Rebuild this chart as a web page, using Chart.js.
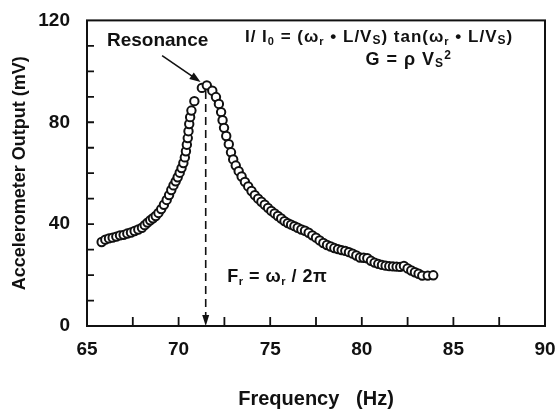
<!DOCTYPE html>
<html>
<head>
<meta charset="utf-8">
<script src="https://cdn.jsdelivr.net/npm/chart.js@4.4.1/dist/chart.umd.min.js"></script>
<style>
  body { margin: 0; background: #fff; }
</style>
</head>
<body>
<canvas id="myChart" width="558" height="414"></canvas>
<script>
// frequency sweep (Hz) and accelerometer reading (mV)
const freqHz = [
  65.80, 66.00, 66.20, 66.40, 66.60, 66.80, 67.00, 67.20, 67.40, 67.60,
  67.80, 68.00, 68.15, 68.30, 68.45, 68.60, 68.75, 68.90, 69.05, 69.20,
  69.35, 69.48, 69.60, 69.72, 69.84, 69.95, 70.06, 70.16, 70.26, 70.34,
  70.40, 70.45, 70.50, 70.54, 70.58, 70.63, 70.70, 70.86, 71.27, 71.54,
  71.84, 72.04, 72.20, 72.32, 72.40, 72.48, 72.60, 72.74, 72.86, 72.98,
  73.12, 73.28, 73.44, 73.62, 73.80, 73.98, 74.16, 74.34, 74.52, 74.70,
  74.88, 75.06, 75.24, 75.42, 75.60, 75.78, 75.96, 76.14, 76.32, 76.50,
  76.70, 76.90, 77.10, 77.30, 77.50, 77.70, 77.90, 78.10, 78.30, 78.50,
  78.70, 78.90, 79.10, 79.30, 79.50, 79.70, 79.90, 80.10, 80.30, 80.50,
  80.70, 80.90, 81.10, 81.30, 81.50, 81.70, 81.90, 82.10, 82.30, 82.50,
  82.70, 82.90, 83.10, 83.30, 83.60, 83.90
];
const outputMv = [
  33.0, 33.9, 34.4, 34.7, 35.1, 35.6, 35.8, 36.3, 36.7, 37.3,
  37.9, 38.6, 39.6, 40.6, 41.5, 42.3, 43.2, 44.4, 45.9, 47.6,
  49.5, 51.4, 53.4, 55.2, 56.8, 58.4, 60.2, 62.0, 64.0, 66.2,
  68.6, 71.2, 73.8, 76.5, 79.3, 82.0, 84.6, 88.3, 93.5, 94.5,
  92.4, 89.9, 87.2, 84.0, 80.8, 77.8, 74.6, 71.4, 68.2, 65.4,
  63.0, 60.8, 58.7, 56.6, 54.8, 53.0, 51.4, 50.0, 48.8, 47.6,
  46.4, 45.2, 44.2, 43.2, 42.2, 41.2, 40.4, 39.8, 39.2, 38.6,
  37.9, 37.4, 36.6, 35.6, 34.7, 33.6, 32.6, 31.8, 31.2, 30.6,
  30.2, 29.8, 29.5, 29.0, 28.4, 27.7, 26.9, 26.8, 26.6, 25.6,
  24.9, 24.4, 24.0, 23.7, 23.5, 23.4, 23.3, 23.2, 23.6, 22.6,
  21.8, 21.1, 20.5, 19.8, 19.8, 19.9
];

const xTicks = [65, 70, 75, 80, 85, 90];
const xMinor = [67.5, 70, 72.5, 75, 77.5, 80, 82.5, 85, 87.5];
const yTicks = [0, 40, 80, 120];
const yMinor = [10, 20, 30, 40, 50, 60, 70, 80, 90, 100, 110];

const resonanceHz = 71.48;

const FONT = 'Liberation Sans, Arial, Helvetica, sans-serif';
const INK = '#111';

// draws a run of text pieces: [text, size, baseline shift]
function drawRich(ctx, x, y, parts, bold, spacing) {
  ctx.letterSpacing = (spacing || 0) + 'px';
  parts.forEach(p => {
    ctx.font = (bold ? 'bold ' : '') + p[1] + 'px ' + FONT;
    ctx.fillText(p[0], x, y + (p[2] || 0));
    x += ctx.measureText(p[0]).width;
  });
  ctx.letterSpacing = '0px';
}

const overlay = {
  id: 'overlay',
  beforeDatasetsDraw(chart) {
    const {ctx, scales: {x, y}} = chart;
    const px = x.getPixelForValue(resonanceHz);
    const top = y.getPixelForValue(92.3);
    const bot = y.getPixelForValue(0);
    ctx.save();
    ctx.strokeStyle = INK;
    ctx.lineWidth = 1.6;
    ctx.setLineDash([8, 5]);
    ctx.beginPath();
    ctx.moveTo(px, top);
    ctx.lineTo(px, bot - 8);
    ctx.stroke();
    ctx.setLineDash([]);
    ctx.fillStyle = INK;
    ctx.beginPath();
    ctx.moveTo(px, bot);
    ctx.lineTo(px - 3.5, bot - 11);
    ctx.lineTo(px + 3.5, bot - 11);
    ctx.closePath();
    ctx.fill();
    ctx.restore();
  },
  afterDraw(chart) {
    const {ctx, chartArea: a, scales: {x, y}} = chart;
    ctx.save();
    ctx.strokeStyle = INK;
    ctx.fillStyle = INK;
    ctx.lineWidth = 2;
    ctx.strokeRect(a.left, a.top, a.right - a.left, a.bottom - a.top);

    ctx.lineWidth = 1.8;
    ctx.beginPath();
    xMinor.forEach(v => {
      const px = x.getPixelForValue(v);
      ctx.moveTo(px, a.bottom);
      ctx.lineTo(px, a.bottom - 9);
    });
    yMinor.forEach(v => {
      const py = y.getPixelForValue(v);
      ctx.moveTo(a.left, py);
      ctx.lineTo(a.left + 7, py);
    });
    ctx.stroke();

    // resonance arrow
    const x0 = x.getPixelForValue(69.1), y0 = y.getPixelForValue(106.2);
    const x1 = x.getPixelForValue(71.2), y1 = y.getPixelForValue(95.8);
    const ang = Math.atan2(y1 - y0, x1 - x0);
    ctx.lineWidth = 1.6;
    ctx.beginPath();
    ctx.moveTo(x0, y0);
    ctx.lineTo(x1 - 6 * Math.cos(ang), y1 - 6 * Math.sin(ang));
    ctx.stroke();
    ctx.beginPath();
    ctx.moveTo(x1, y1);
    ctx.lineTo(x1 - 11 * Math.cos(ang) + 4 * Math.sin(ang), y1 - 11 * Math.sin(ang) - 4 * Math.cos(ang));
    ctx.lineTo(x1 - 11 * Math.cos(ang) - 4 * Math.sin(ang), y1 - 11 * Math.sin(ang) + 4 * Math.cos(ang));
    ctx.closePath();
    ctx.fill();

    ctx.textBaseline = 'alphabetic';
    ctx.textAlign = 'left';
    ctx.font = 'bold 19px ' + FONT;
    ctx.fillText('Resonance', x.getPixelForValue(66.09), y.getPixelForValue(109.8));

    drawRich(ctx, x.getPixelForValue(73.62), y.getPixelForValue(111.6), [
      ['I/ I', 17], ['0', 11, 3], [' = (', 17], ['ω', 17], ['r', 11, 3],
      [' • L/V', 17], ['S', 12, 2], [') tan(', 17], ['ω', 17], ['r', 11, 3],
      [' • L/V', 17], ['S', 12, 2], [')', 17]
    ], true, 1);
    drawRich(ctx, x.getPixelForValue(80.2), y.getPixelForValue(102.6), [
      ['G = ρ V', 18], ['S', 12, 2], ['2', 12, -6]
    ], true, 1);
    drawRich(ctx, x.getPixelForValue(72.65), y.getPixelForValue(17.2), [
      ['F', 18], ['r', 11, 3], [' = ', 18], ['ω', 18], ['r', 11, 3], [' / 2π', 18]
    ], true, 0.5);
    ctx.restore();
  }
};

const ctx = document.getElementById('myChart').getContext('2d');
new Chart(ctx, {
  type: 'scatter',
  data: {
    datasets: [{
      data: freqHz.map((f, i) => ({x: f, y: outputMv[i]})),
      pointStyle: 'circle',
      pointRadius: 4.2,
      borderColor: INK,
      backgroundColor: '#fff',
      borderWidth: 2
    }]
  },
  options: {
    responsive: false,
    animation: false,
    events: [],
    layout: {padding: {left: 0, right: 13, top: 19, bottom: 0}},
    plugins: {legend: {display: false}, tooltip: {enabled: false}},
    scales: {
      x: {
        type: 'linear',
        min: 65,
        max: 90,
        afterBuildTicks: s => { s.ticks = xTicks.map(v => ({value: v})); },
        afterFit: s => { s.height = 88; s.paddingLeft = 0; s.paddingRight = 0; },
        grid: {display: false},
        border: {display: false},
        ticks: {color: INK, padding: 4, maxRotation: 0, font: {family: FONT, size: 19, weight: 'bold'}},
        title: {
          display: true,
          text: 'Frequency   (Hz)',
          color: INK,
          font: {family: FONT, size: 20, weight: 'bold'},
          padding: {top: 0, bottom: 3}
        }
      },
      y: {
        min: 0,
        max: 120,
        afterBuildTicks: s => { s.ticks = yTicks.map(v => ({value: v})); },
        afterFit: s => { s.width = 87; },
        grid: {display: false},
        border: {display: false},
        ticks: {color: INK, padding: 9, font: {family: FONT, size: 19, weight: 'bold'}},
        title: {
          display: true,
          text: 'Accelerometer Output (mV)',
          color: INK,
          font: {family: FONT, size: 18, weight: 'bold'},
          padding: {top: 9, bottom: 0}
        }
      }
    }
  },
  plugins: [overlay]
});
</script>
</body>
</html>
